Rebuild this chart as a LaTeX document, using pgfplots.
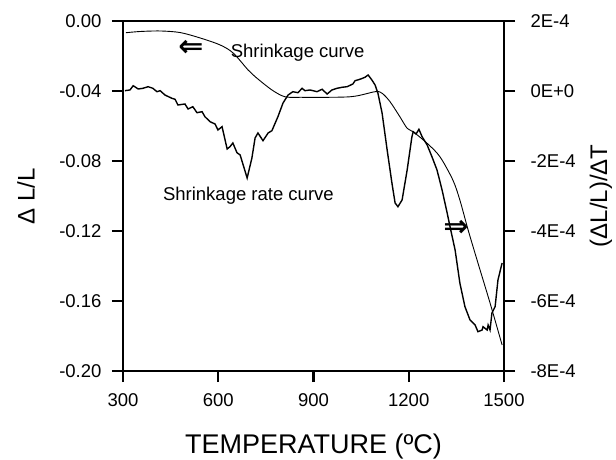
\documentclass[border=0pt]{standalone}
\usepackage{fontspec}
\setmainfont{Liberation Sans}
\newfontfamily\arrowfont{DejaVu Sans}
\usepackage{pgfplots}
\usepackage{pgfplotstable}
\pgfplotsset{compat=1.18}

% Shrinkage curve: Delta L / L versus temperature
\pgfplotstableread{
T s
309 -0.0067
354 -0.0060
417 -0.0057
480 -0.0066
543 -0.0097
606 -0.0137
647 -0.0183
694 -0.0280
716 -0.0318
769 -0.0394
810 -0.0433
857 -0.0436
1015 -0.0433
1094 -0.0404
1116 -0.0413
1141 -0.0461
1172 -0.0547
1195 -0.0613
1214 -0.0633
1258 -0.0699
1298 -0.0775
1339 -0.0909
1361 -0.1023
1387 -0.1194
1418 -0.1383
1456 -0.1611
1494 -0.1851
}\shrinkage

% Shrinkage rate curve: (Delta L / L) / Delta T versus temperature
\pgfplotstableread{
T r
306 0.009e-4
322 0.029e-4
332 0.151e-4
348 0.057e-4
363 0.077e-4
379 0.123e-4
394 0.077e-4
407 -0.020e-4
417 0.009e-4
432 -0.114e-4
454 -0.209e-4
464 -0.237e-4
473 -0.400e-4
495 -0.371e-4
505 -0.514e-4
520 -0.449e-4
533 -0.620e-4
549 -0.591e-4
558 -0.734e-4
574 -0.877e-4
590 -0.943e-4
599 -1.114e-4
612 -1.020e-4
628 -1.657e-4
637 -1.591e-4
646 -1.486e-4
659 -1.763e-4
669 -1.829e-4
691 -2.486e-4
706 -1.914e-4
716 -1.343e-4
725 -1.200e-4
741 -1.420e-4
757 -1.200e-4
769 -1.134e-4
788 -0.734e-4
804 -0.343e-4
820 -0.114e-4
835 -0.020e-4
851 -0.049e-4
864 0.077e-4
873 0.009e-4
889 0.029e-4
911 -0.020e-4
927 0.049e-4
943 -0.086e-4
958 0.029e-4
974 0.077e-4
990 0.106e-4
1006 0.123e-4
1024 0.200e-4
1031 0.294e-4
1046 0.334e-4
1062 0.391e-4
1072 0.457e-4
1084 0.314e-4
1094 0.171e-4
1103 -0.066e-4
1116 -0.629e-4
1132 -1.686e-4
1147 -2.629e-4
1157 -3.200e-4
1166 -3.306e-4
1179 -3.114e-4
1195 -2.257e-4
1210 -1.306e-4
1214 -1.163e-4
1223 -1.229e-4
1232 -1.094e-4
1242 -1.306e-4
1258 -1.543e-4
1273 -1.877e-4
1289 -2.257e-4
1305 -2.829e-4
1321 -3.486e-4
1330 -3.877e-4
1346 -4.543e-4
1361 -5.486e-4
1377 -6.163e-4
1393 -6.543e-4
1409 -6.686e-4
1418 -6.877e-4
1431 -6.829e-4
1434 -6.734e-4
1447 -6.829e-4
1450 -6.686e-4
1456 -6.829e-4
1462 -6.343e-4
1472 -6.163e-4
1481 -5.400e-4
1494 -4.914e-4
}\shrinkrate

\begin{document}
\begin{tikzpicture}
\begin{axis}[name=main,
  scale only axis, width=381pt, height=350pt,
  xmin=300, xmax=1500, ymin=-0.2, ymax=0,
  clip=false,
  xtick={300,600,900,1200,1500},
  xticklabels={300,600,900,1200,1500},
  ytick={-0.2,-0.16,-0.12,-0.08,-0.04,0},
  yticklabels={-0.20,-0.16,-0.12,-0.08,-0.04,0.00},
  xtick pos=left, ytick pos=left,
  tick align=outside, major tick length=11pt,
  tick style={black, line width=2.2pt},
  axis line style={line width=2.4pt},
  ticklabel style={font=\fontsize{18.5}{18.5}\selectfont},
  /pgf/number format/assume math mode=true,
  xticklabel style={yshift=-8pt},
  yticklabel style={xshift=-7pt},
  xlabel={TEMPERATURE (ºC)},
  xlabel style={at={(axis description cs:0.5,-0.2343)}, anchor=base,
    font=\fontsize{27}{27}\selectfont},
  ylabel={Δ L/L},
  ylabel style={at={(axis description cs:-0.2546,0.5)}, anchor=center,
    font=\fontsize{24}{24}\selectfont},
]
  % outward tick marks on the bottom and left axes
  \pgfplotsinvokeforeach{300,600,900,1200,1500}{
    \draw[line width=2.2pt] (axis cs:#1,-0.2) -- ++(0pt,-11pt);}
  \pgfplotsinvokeforeach{-0.2,-0.16,-0.12,-0.08,-0.04,0}{
    \draw[line width=2.2pt] (axis cs:300,#1) -- ++(-11pt,0pt);}
  \addplot[black, line width=0.9pt, smooth] table[x=T, y=s] {\shrinkage};
  \node[font=\fontsize{18.5}{18.5}\selectfont, anchor=base]
    at (axis cs:850,-0.0206) {Shrinkage curve};
  \node[font=\fontsize{18.5}{18.5}\selectfont, anchor=base]
    at (axis cs:695,-0.1023) {Shrinkage rate curve};
  \node[font=\arrowfont\bfseries\fontsize{30}{30}\selectfont, inner sep=0pt]
    at (axis cs:514,-0.0154) {⇐};
  \node[font=\arrowfont\bfseries\fontsize{30}{30}\selectfont, inner sep=0pt]
    at (axis cs:1349,-0.1183) {⇒};
\end{axis}
\begin{axis}[
  scale only axis, width=381pt, height=350pt,
  xmin=300, xmax=1500, ymin=-8e-4, ymax=2e-4,
  clip=false,
  axis x line=none, axis y line*=right,
  tick align=outside, major tick length=11pt,
  tick style={black, line width=2.2pt},
  axis line style={line width=2.4pt},
  ticklabel style={font=\fontsize{18.5}{18.5}\selectfont},
  /pgf/number format/assume math mode=true,
  scaled y ticks=false,
  ytick={-8e-4,-6e-4,-4e-4,-2e-4,0,2e-4},
  yticklabels={-8E-4,-6E-4,-4E-4,-2E-4,0E+0,2E-4},
  yticklabel style={xshift=12pt},
  ylabel={(ΔL/L)/ΔT},
  ylabel style={at={(axis description cs:1.2546,0.5)}, anchor=center,
    rotate=0, font=\fontsize{24}{24}\selectfont},
]
  % outward tick marks on the right axis
  \pgfplotsinvokeforeach{-8e-4,-6e-4,-4e-4,-2e-4,0,2e-4}{
    \draw[line width=2.2pt] (axis cs:1500,#1) -- ++(11pt,0pt);}
  \addplot[black, line width=1.4pt] table[x=T, y=r] {\shrinkrate};
\end{axis}
\pgfresetboundingbox
\path (main.south west) ++(-123pt,-89pt) rectangle ++(616pt,460pt);
\end{tikzpicture}
\end{document}
